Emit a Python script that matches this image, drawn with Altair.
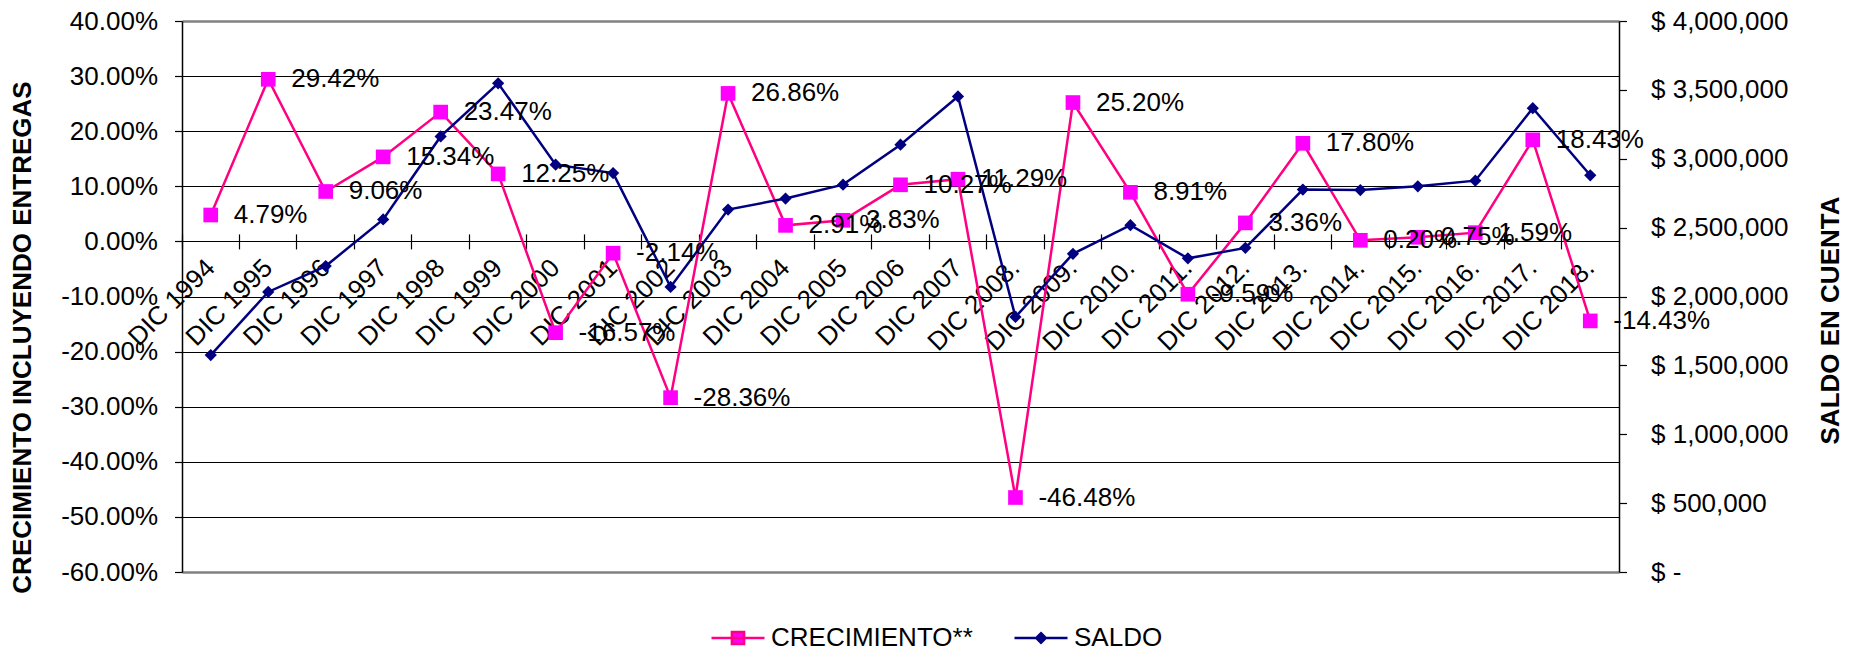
import altair as alt
import pandas as pd

FONT = "Liberation Sans"

categories = [
    "DIC 1994", "DIC 1995", "DIC 1996", "DIC 1997", "DIC 1998", "DIC 1999",
    "DIC 2000", "DIC 2001", "DIC 2002", "DIC 2003", "DIC 2004", "DIC 2005",
    "DIC 2006", "DIC 2007", "DIC 2008.", "DIC 2009.", "DIC 2010.", "DIC 2011.",
    "DIC 2012.", "DIC 2013.", "DIC 2014.", "DIC 2015.", "DIC 2016.", "DIC 2017.",
    "DIC 2018.",
]
crecimiento = [
    0.0479, 0.2942, 0.0906, 0.1534, 0.2347, 0.1225, -0.1657, -0.0214, -0.2836,
    0.2686, 0.0291, 0.0383, 0.1027, 0.1129, -0.4648, 0.2520, 0.0891, -0.0959,
    0.0336, 0.1780, 0.0020, 0.0075, 0.0159, 0.1843, -0.1443,
]
saldo = [
    1575000, 2033000, 2221000, 2559000, 3162000, 3548000, 2957000, 2896000,
    2069000, 2631000, 2711000, 2812000, 3102000, 3452000, 1852000, 2310000,
    2518000, 2277000, 2353000, 2776000, 2773000, 2800000, 2841000, 3367000,
    2880000,
]
pct_ticks = [-0.6, -0.5, -0.4, -0.3, -0.2, -0.1, 0.0, 0.1, 0.2, 0.3, 0.4]
saldo_ticks = [0, 500000, 1000000, 1500000, 2000000, 2500000, 3000000, 3500000, 4000000]
series_names = ["CRECIMIENTO**", "SALDO"]

df = pd.DataFrame({
    "periodo": categories,
    "crec": crecimiento,
    "saldo": saldo,
    "etiqueta": [f"{v:.2%}" for v in crecimiento],
})
legend_df = pd.DataFrame({"serie": series_names})

PLOT_H = 551
ZERO_OFFSET = -(PLOT_H * 0.6)

xscale = alt.Scale(type="band", paddingInner=0, paddingOuter=0)

x_lab = alt.X(
    "periodo:N", sort=None, scale=xscale, title=None,
    axis=alt.Axis(
        orient="bottom", offset=ZERO_OFFSET, labelAngle=315, labelAlign="right",
        labelBaseline="middle", labelPadding=22, ticks=False, tickSize=0,
        domain=False, grid=False, labelFontSize=26, labelFont=FONT,
        labelColor="black", bandPosition=0.5, labelOverlap=False,
    ),
)
x_tick = alt.X(
    "periodo:N", sort=None, scale=xscale, title=None,
    axis=alt.Axis(
        orient="bottom", offset=ZERO_OFFSET - 7.5, labels=False, ticks=True,
        tickSize=15, tickColor="black", tickWidth=1.2, domain=False, grid=False,
        bandPosition=0,
    ),
)
x_none = alt.X("periodo:N", sort=None, scale=xscale, axis=None)

edge_test = "abs(datum.value - 0.4) < 1e-6 || abs(datum.value + 0.6) < 1e-6"

y_crec = alt.Y(
    "crec:Q",
    scale=alt.Scale(domain=[-0.6, 0.4], nice=False, zero=False),
    axis=alt.Axis(
        orient="left", values=pct_ticks,
        labelExpr="replace(format(datum.value, '.2%'), '\u2212', '-')",
        labelFontSize=26, labelFont=FONT, labelColor="black", labelPadding=17,
        tickSize=7.5, tickColor="black", tickWidth=1.2,
        domainColor="black", domainWidth=1.5,
        grid=True,
        gridColor={"condition": {"test": edge_test, "value": "#808080"}, "value": "#000000"},
        gridWidth={"condition": {"test": edge_test, "value": 2.5}, "value": 1},
        gridOpacity=1,
        title="CRECIMIENTO INCLUYENDO ENTREGAS", titleFontSize=26,
        titleFont=FONT, titleFontWeight="bold", titleColor="black",
        titleAngle=270, titleX=-160, titleY=316, titleAlign="center",
        titleBaseline="middle",
    ),
)
y_crec_plain = alt.Y(
    "crec:Q", scale=alt.Scale(domain=[-0.6, 0.4], nice=False, zero=False), axis=None
)

y_saldo = alt.Y(
    "saldo:Q",
    scale=alt.Scale(domain=[0, 4000000], nice=False, zero=True),
    axis=alt.Axis(
        orient="right", values=saldo_ticks,
        labelExpr="datum.value == 0 ? '$ -' : '$ ' + format(datum.value, ',.0f')",
        labelFontSize=26, labelFont=FONT, labelColor="black", labelPadding=24,
        tickSize=7.5, tickColor="black", tickWidth=1.2,
        domainColor="black", domainWidth=1.5, grid=False,
        title="SALDO EN CUENTA", titleFontSize=26, titleFont=FONT,
        titleFontWeight="bold", titleColor="black", titleAngle=270,
        titleX=211, titleY=299, titleAlign="center", titleBaseline="middle",
    ),
)

base = alt.Chart(df)

crec_line = base.mark_line(color="#FF0080", strokeWidth=2.5).encode(x=x_lab, y=y_crec)
crec_pts = base.mark_point(shape="square", filled=True, size=215, color="#FF00FF", opacity=1).encode(x=x_lab, y=y_crec)
crec_group = alt.layer(crec_line, crec_pts)

saldo_line = base.mark_line(color="#000080", strokeWidth=2.5).encode(x=x_tick, y=y_saldo)
saldo_pts = base.mark_point(shape="diamond", filled=True, size=150, color="#000080", opacity=1).encode(x=x_tick, y=y_saldo)
saldo_group = alt.layer(saldo_line, saldo_pts)

labels = base.mark_text(
    align="left", baseline="middle", dx=23, fontSize=26, font=FONT, color="black"
).encode(x=x_none, y=y_crec_plain, text="etiqueta:N")

leg = alt.Legend(
    orient="none", legendX=528, legendY=589, direction="horizontal", title=None,
    symbolSize=2809, symbolStrokeWidth=2.5, labelFontSize=26, labelFont=FONT,
    labelColor="black", labelOffset=5, columnPadding=36, padding=0,
    labelLimit=0,
)
path_crec = "M-1,0H1M-0.23,-0.23H0.23V0.23H-0.23Z"
path_saldo = "M-1,0H1M0,-0.18L0.18,0L0,0.18L-0.18,0Z"

legend_layer = alt.Chart(legend_df).mark_point(
    filled=True, strokeWidth=2.5, opacity=1
).encode(
    fill=alt.Fill("serie:N", scale=alt.Scale(domain=series_names, range=["#FF00FF", "#000080"]), legend=leg),
    stroke=alt.Stroke("serie:N", scale=alt.Scale(domain=series_names, range=["#FF0080", "#000080"]), legend=leg),
    shape=alt.Shape("serie:N", scale=alt.Scale(domain=series_names, range=[path_crec, path_saldo]), legend=leg),
).transform_filter("false")

chart = alt.layer(crec_group, saldo_group, labels, legend_layer).resolve_scale(
    y="independent"
).resolve_axis(
    x="independent"
).properties(
    width=1437, height=PLOT_H,
    autosize=alt.AutoSizeParams(type="none"),
    padding={"left": 174, "top": 13, "right": 230, "bottom": 77},
).configure_view(
    fill="#C0C0C0", stroke="transparent"
)

chart.save("out.html", embed_options={"renderer": "svg", "actions": False})
